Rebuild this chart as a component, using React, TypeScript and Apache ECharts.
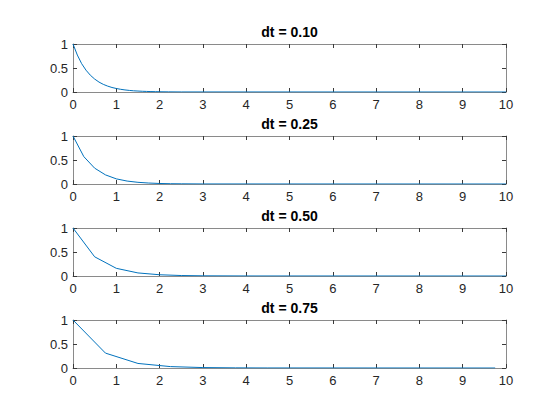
import React, { useEffect, useRef } from "react";
import * as echarts from "echarts";

// values (flat at zero after the last listed point)
const titles = ["dt = 0.10", "dt = 0.25", "dt = 0.50", "dt = 0.75"];

const data010: [number, number][] = [
  [0, 1], [0.1, 0.77], [0.2, 0.59], [0.3, 0.455], [0.4, 0.35], [0.5, 0.27],
  [0.6, 0.207], [0.7, 0.159], [0.8, 0.123], [0.9, 0.094], [1.0, 0.073],
  [1.1, 0.056], [1.2, 0.043], [1.3, 0.033], [1.4, 0.025], [1.5, 0.02],
  [1.6, 0.015], [1.7, 0.012], [1.8, 0.009], [1.9, 0.007], [2.0, 0.005],
  [2.2, 0.003], [2.5, 0.001], [10, 0],
];
const data025: [number, number][] = [
  [0, 1], [0.25, 0.57], [0.5, 0.33], [0.75, 0.19], [1, 0.107], [1.25, 0.061],
  [1.5, 0.035], [1.75, 0.02], [2, 0.011], [2.25, 0.006], [2.5, 0.004],
  [3, 0.001], [10, 0],
];
const data050: [number, number][] = [
  [0, 1], [0.5, 0.4], [1, 0.16], [1.5, 0.064], [2, 0.026], [2.5, 0.01],
  [3, 0.004], [4, 0.001], [10, 0],
];
const data075: [number, number][] = [
  [0, 1], [0.75, 0.31], [1.5, 0.095], [2.25, 0.029], [3, 0.009],
  [3.75, 0.003], [4.5, 0.001], [9.75, 0],
];

const allData = [data010, data025, data050, data075];

const xMin = 0;
const xMax = 10;
const xStep = 1;
const yMin = 0;
const yMax = 1;
const yStep = 0.5;

const FONT = "'Liberation Sans', Arial, Helvetica, sans-serif";
const gridLeft = 73;
const gridWidth = 433;
const gridTops = [44, 136, 228, 320];
const gridHeight = 48;

export default function App() {
  const chartRef = useRef<HTMLDivElement>(null);

  useEffect(() => {
    if (!chartRef.current) return;
    const chart = echarts.init(chartRef.current, null, { renderer: "svg" });

    const lineColor = "#8a8a8a";
    const tickColor = "#3a3a3a";
    const labelStyle = { color: "#262626", fontSize: 13, fontFamily: FONT };

    const grids = gridTops.map((top) => ({
      left: gridLeft,
      top,
      width: gridWidth,
      height: gridHeight,
      containLabel: false,
    }));

    const xAxes: any[] = [];
    const yAxes: any[] = [];
    gridTops.forEach((_, i) => {
      ["bottom", "top"].forEach((pos) => {
        xAxes.push({
          type: "value",
          gridIndex: i,
          position: pos,
          min: xMin,
          max: xMax,
          interval: xStep,
          axisLine: { show: true, onZero: false, lineStyle: { color: lineColor, width: 1 } },
          axisTick: { show: true, inside: true, length: 4, lineStyle: { color: tickColor, width: 1 } },
          axisLabel: pos === "bottom" ? { ...labelStyle, margin: 6 } : { show: false },
          splitLine: { show: false },
        });
      });
      ["left", "right"].forEach((pos) => {
        yAxes.push({
          type: "value",
          gridIndex: i,
          position: pos,
          min: yMin,
          max: yMax,
          interval: yStep,
          axisLine: { show: true, onZero: false, lineStyle: { color: lineColor, width: 1 } },
          axisTick: { show: true, inside: true, length: 4, lineStyle: { color: tickColor, width: 1 } },
          axisLabel: pos === "left" ? { ...labelStyle, margin: 5 } : { show: false },
          splitLine: { show: false },
        });
      });
    });

    const series = allData.map((d, i) => ({
      type: "line",
      xAxisIndex: i * 2,
      yAxisIndex: i * 2,
      data: d,
      showSymbol: false,
      symbol: "none",
      lineStyle: { color: "#0072BD", width: 1 },
      z: 3,
    }));

    const graphics = titles.map((t, i) => ({
      type: "text",
      x: gridLeft + gridWidth / 2,
      y: gridTops[i] - 12,
      style: {
        text: t,
        align: "center",
        verticalAlign: "middle",
        fill: "#000000",
        font: `bold 14px ${FONT}`,
      },
    }));

    chart.setOption({
      animation: false,
      backgroundColor: "#ffffff",
      grid: grids,
      xAxis: xAxes,
      yAxis: yAxes,
      series,
      graphic: graphics,
    });

    return () => {
      chart.dispose();
    };
  }, []);

  return (
    <div
      ref={chartRef}
      style={{ position: "fixed", left: 0, top: 0, width: 560, height: 420 }}
    />
  );
}
